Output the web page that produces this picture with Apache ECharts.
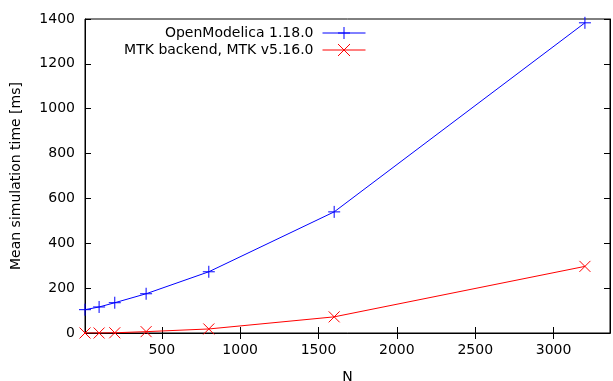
<!DOCTYPE html>
<html>
<head>
<meta charset="utf-8">
<script src="https://cdn.jsdelivr.net/npm/echarts@6/dist/echarts.min.js"></script>
<style>html,body{margin:0;padding:0;background:#fff}#c{width:613px;height:381px}</style>
</head>
<body>
<div id="c"></div>
<script>
const nValues = [10, 100, 200, 400, 800, 1600, 3200];
const omTimes = [104, 116, 135, 175, 273, 540, 1383];
const mtkTimes = [0, 0, 1, 6, 18, 72, 297];
const xTicks = [500, 1000, 1500, 2000, 2500, 3000];
const seriesNames = ['OpenModelica 1.18.0', 'MTK backend, MTK v5.16.0'];

const FONT = 'DejaVu Sans';
const chart = echarts.init(document.getElementById('c'), null, {renderer: 'canvas'});
const plus = 'path://M0,5 L10,5 M5,0 L5,10';
const cross = 'path://M0,0 L10,10 M10,0 L0,10';
const axisLine = {show: true, lineStyle: {color: '#000', width: 1}};
const tickIn = {show: true, inside: true, length: 6, lineStyle: {color: '#000'}};
const plain = v => String(v);
const legendBase = {right: 247, align: 'right', itemWidth: 43, itemHeight: 15, padding: 0, itemGap: 0,
  lineStyle: {width: 1}, itemStyle: {borderWidth: 1},
  textStyle: {fontFamily: FONT, fontSize: 14, color: '#000', padding: [0, 4, 0, 0]}};

chart.setOption({
  animation: false,
  textStyle: {fontFamily: FONT},
  grid: {left: 85, right: 3, top: 19, bottom: 48, show: true, borderColor: '#000', borderWidth: 1,
         containLabel: false, outerBoundsMode: 'none'},
  legend: [
    Object.assign({data: [seriesNames[0]], top: 26}, legendBase),
    Object.assign({data: [seriesNames[1]], top: 43}, legendBase)
  ],
  xAxis: [
    {type: 'value', min: 10, max: 3360, position: 'bottom',
     name: 'N', nameLocation: 'middle', nameGap: 37,
     nameTextStyle: {fontFamily: FONT, fontSize: 14, color: '#000'},
     axisLine: axisLine, splitLine: {show: false},
     axisTick: Object.assign({customValues: xTicks}, tickIn),
     axisLabel: {customValues: xTicks, formatter: plain, fontFamily: FONT, fontSize: 14, color: '#000', margin: 10}},
    {type: 'value', min: 10, max: 3360, position: 'top',
     axisLine: axisLine, splitLine: {show: false},
     axisTick: Object.assign({customValues: xTicks}, tickIn),
     axisLabel: {show: false}}
  ],
  yAxis: [
    {type: 'value', min: 0, max: 1400, interval: 200, position: 'left',
     name: 'Mean simulation time [ms]', nameLocation: 'middle', nameGap: 62,
     nameTextStyle: {fontFamily: FONT, fontSize: 14, color: '#000'},
     axisLine: axisLine, splitLine: {show: false}, axisTick: tickIn,
     axisLabel: {formatter: plain, fontFamily: FONT, fontSize: 14, color: '#000', margin: 10}},
    {type: 'value', min: 0, max: 1400, interval: 200, position: 'right',
     axisLine: axisLine, splitLine: {show: false}, axisTick: tickIn,
     axisLabel: {show: false}}
  ],
  series: [
    {name: seriesNames[0], type: 'line', data: nValues.map((n, i) => [n, omTimes[i]]),
     symbol: plus, symbolSize: 12, showAllSymbol: true,
     lineStyle: {color: '#0000ff', width: 1},
     itemStyle: {color: '#0000ff', borderColor: '#0000ff', borderWidth: 1}},
    {name: seriesNames[1], type: 'line', data: nValues.map((n, i) => [n, mtkTimes[i]]),
     symbol: cross, symbolSize: 11, showAllSymbol: true,
     lineStyle: {color: '#ff0000', width: 1},
     itemStyle: {color: '#ff0000', borderColor: '#ff0000', borderWidth: 1}}
  ]
});
</script>
</body>
</html>
